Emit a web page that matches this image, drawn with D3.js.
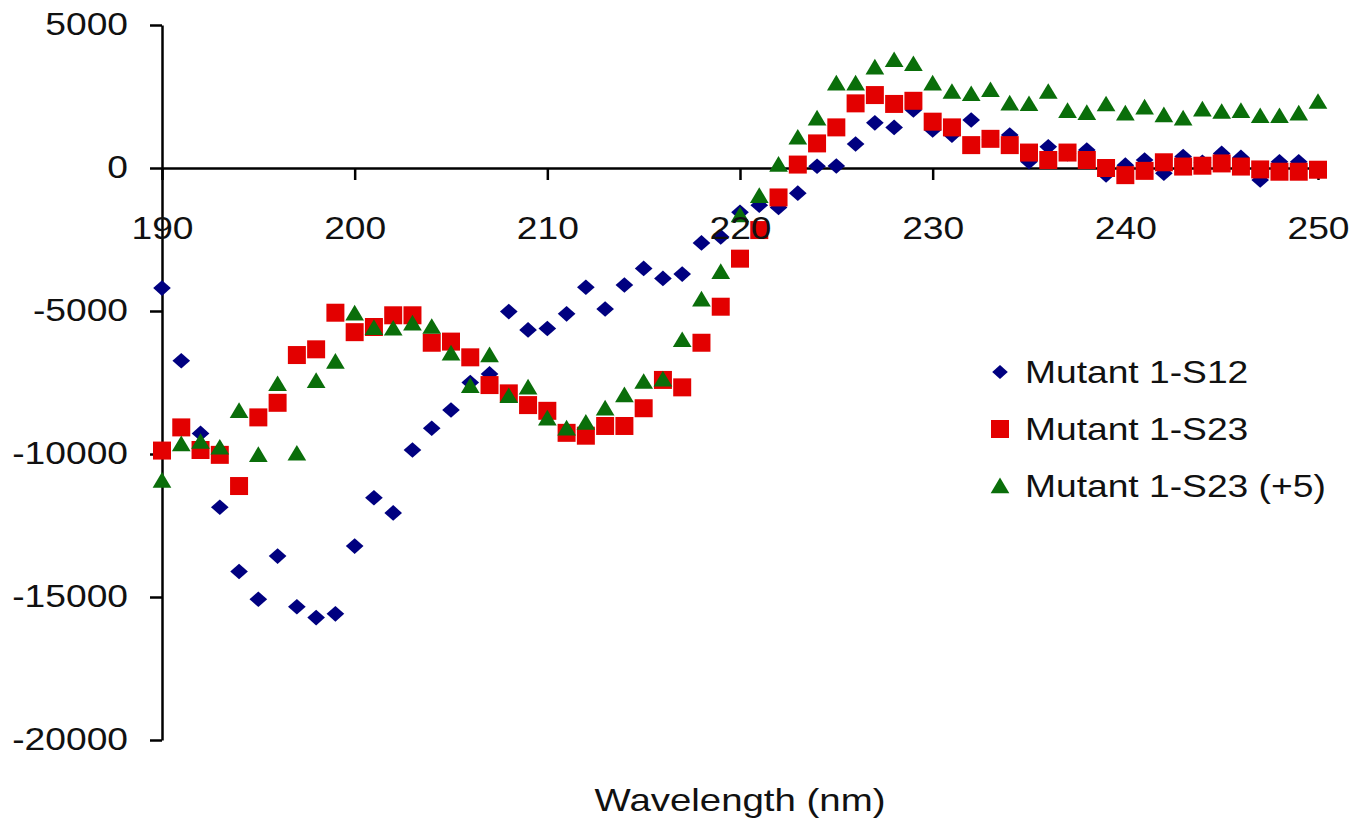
<!DOCTYPE html>
<html>
<head>
<meta charset="utf-8">
<script src="https://cdn.jsdelivr.net/npm/d3@7"></script>
<style>
  body { margin: 0; background: #fff; }
  svg { display: block; font-family: "Liberation Sans", Arial, sans-serif; }
  .axis path, .axis line { stroke: #000; stroke-width: 2.5; }
  .tick text, .legend text, .title { fill: #111; font-size: 31px; }
</style>
</head>
<body>
<script>
const wavelengths = [
  190, 191, 192, 193, 194, 195, 196, 197, 198, 199,
  200, 201, 202, 203, 204, 205, 206, 207, 208, 209,
  210, 211, 212, 213, 214, 215, 216, 217, 218, 219,
  220, 221, 222, 223, 224, 225, 226, 227, 228, 229,
  230, 231, 232, 233, 234, 235, 236, 237, 238, 239,
  240, 241, 242, 243, 244, 245, 246, 247, 248, 249, 250
];

const s12 = [
  -4200, -6740, -9280, -11860, -14110, -15080, -13570, -15340, -15720, -15590,
  -13220, -11530, -12060, -9860, -9100, -8460, -7500, -7200, -5020, -5660,
  -5610, -5100, -4170, -4930, -4090, -3510, -3860, -3710, -2620, -2410,
  -1550, -1300, -1380, -880, 60, 70, 840, 1580, 1420, 2030,
  1330, 1150, 1680, 1000, 1150, 220, 740, 500, 630, -240,
  100, 280, -180, 400, 200, 510, 370, -420, 220, 220, -100
];

const s23 = [
  -9880, -9070, -9860, -10030, -11120, -8720, -8210, -6540, -6340, -5060,
  -5740, -5560, -5150, -5150, -6110, -6070, -6620, -7590, -7880, -8290,
  -8490, -9260, -9360, -9020, -9020, -8400, -7410, -7670, -6110, -4850,
  -3170, -2170, -1030, 120, 860, 1420, 2260, 2550, 2240, 2350,
  1620, 1420, 800, 1020, 800, 540, 280, 540, 280, 0,
  -250, -100, 200, 50, 80, 160, 50, -50, -130, -130, -60
];

const s23plus5 = [
  -10930, -9650, -9570, -9770, -8490, -10030, -7550, -9980, -7440, -6770,
  -5080, -5590, -5610, -5430, -5550, -6480, -7620, -6540, -7970, -7670,
  -8750, -9100, -8900, -8400, -7940, -7470, -7390, -6010, -4590, -3630,
  -1650, -970, 120, 1070, 1740, 2960, 2960, 3520, 3780, 3640,
  2960, 2670, 2590, 2730, 2260, 2240, 2670, 2000, 1930, 2230,
  1910, 2120, 1850, 1740, 2050, 1970, 2000, 1820, 1820, 1910, 2320
];

const seriesNames = ["Mutant 1-S12", "Mutant 1-S23", "Mutant 1-S23 (+5)"];
const xTicks = [190, 200, 210, 220, 230, 240, 250];
const yTicks = [-20000, -15000, -10000, -5000, 0, 5000];

const width = 1369, height = 831;
const stretch = 1.2; // the original picture's text is a bit wider than it is tall

const x = d3.scaleLinear().domain([190, 250]).range([162, 1318]);
const y = d3.scaleLinear().domain([-20000, 5000]).range([740, 25]);

// marker shapes, centred on 0,0
const shapes = {
  diamond: s => `M0,${-s * 0.46}L${s * 0.52},0L0,${s * 0.46}L${-s * 0.52},0Z`,
  square: s => `M${-s / 2},${-s / 2}h${s}v${s}h${-s}Z`,
  triangle: s => `M0,${-s * 0.5}L${s * 0.55},${s * 0.42}L${-s * 0.55},${s * 0.42}Z`
};

const series = [
  { name: seriesNames[0], values: s12, shape: "diamond", size: 17, legendSize: 15, color: "#000080" },
  { name: seriesNames[1], values: s23, shape: "square", size: 18, legendSize: 18, color: "#e30000" },
  { name: seriesNames[2], values: s23plus5, shape: "triangle", size: 17, legendSize: 17, color: "#0a6e0a" }
];

const svg = d3.select("body").append("svg")
  .attr("width", width)
  .attr("height", height);

// plain hyphen for negatives, like the original
const fmt = d => String(d);

const xAxis = d3.axisBottom(x).tickValues(xTicks).tickSize(12).tickSizeOuter(0).tickPadding(37).tickFormat(fmt);
const yAxis = d3.axisLeft(y).tickValues(yTicks).tickSize(12).tickSizeOuter(0).tickPadding(22).tickFormat(fmt);

// axis lines and ticks (labels drawn later, on top of the markers)
svg.append("g")
  .attr("class", "axis")
  .attr("transform", `translate(0,${y(0)})`)
  .call(xAxis)
  .call(g => g.selectAll("text").remove());

svg.append("g")
  .attr("class", "axis")
  .attr("transform", `translate(${x(190)},0)`)
  .call(yAxis)
  .call(g => g.selectAll("text").remove());

// markers
series.forEach(s => {
  svg.append("g")
    .selectAll("path")
    .data(wavelengths.map((w, i) => [w, s.values[i]]))
    .join("path")
    .attr("d", shapes[s.shape](s.size))
    .attr("transform", d => `translate(${x(d[0])},${y(d[1])})`)
    .attr("fill", s.color);
});

// tick labels, stretched sideways
function widen(g) {
  g.select(".domain").remove();
  g.selectAll("line").remove();
  g.selectAll("text")
    .attr("font-size", null)
    .attr("font-family", null)
    .attr("x", function () { return (+d3.select(this).attr("x") || 0) / stretch; })
    .attr("transform", `scale(${stretch},1)`);
}

svg.append("g")
  .attr("transform", `translate(0,${y(0)})`)
  .call(xAxis)
  .call(widen);

svg.append("g")
  .attr("transform", `translate(${x(190)},0)`)
  .call(yAxis)
  .call(widen);

// axis title
svg.append("text")
  .attr("class", "title")
  .attr("transform", `translate(740,811) scale(${stretch},1)`)
  .attr("text-anchor", "middle")
  .style("font-size", "32px")
  .text("Wavelength (nm)");

// legend
const legend = svg.append("g").attr("class", "legend");
const legendY = d3.scalePoint().domain(seriesNames).range([372, 486]);

series.forEach(s => {
  const row = legend.append("g").attr("transform", `translate(1000,${legendY(s.name)})`);
  row.append("path")
    .attr("d", shapes[s.shape](s.legendSize))
    .attr("fill", s.color);
  row.append("text")
    .attr("transform", `translate(25,0) scale(${stretch},1)`)
    .attr("dy", "0.36em")
    .text(s.name);
});
</script>
</body>
</html>
